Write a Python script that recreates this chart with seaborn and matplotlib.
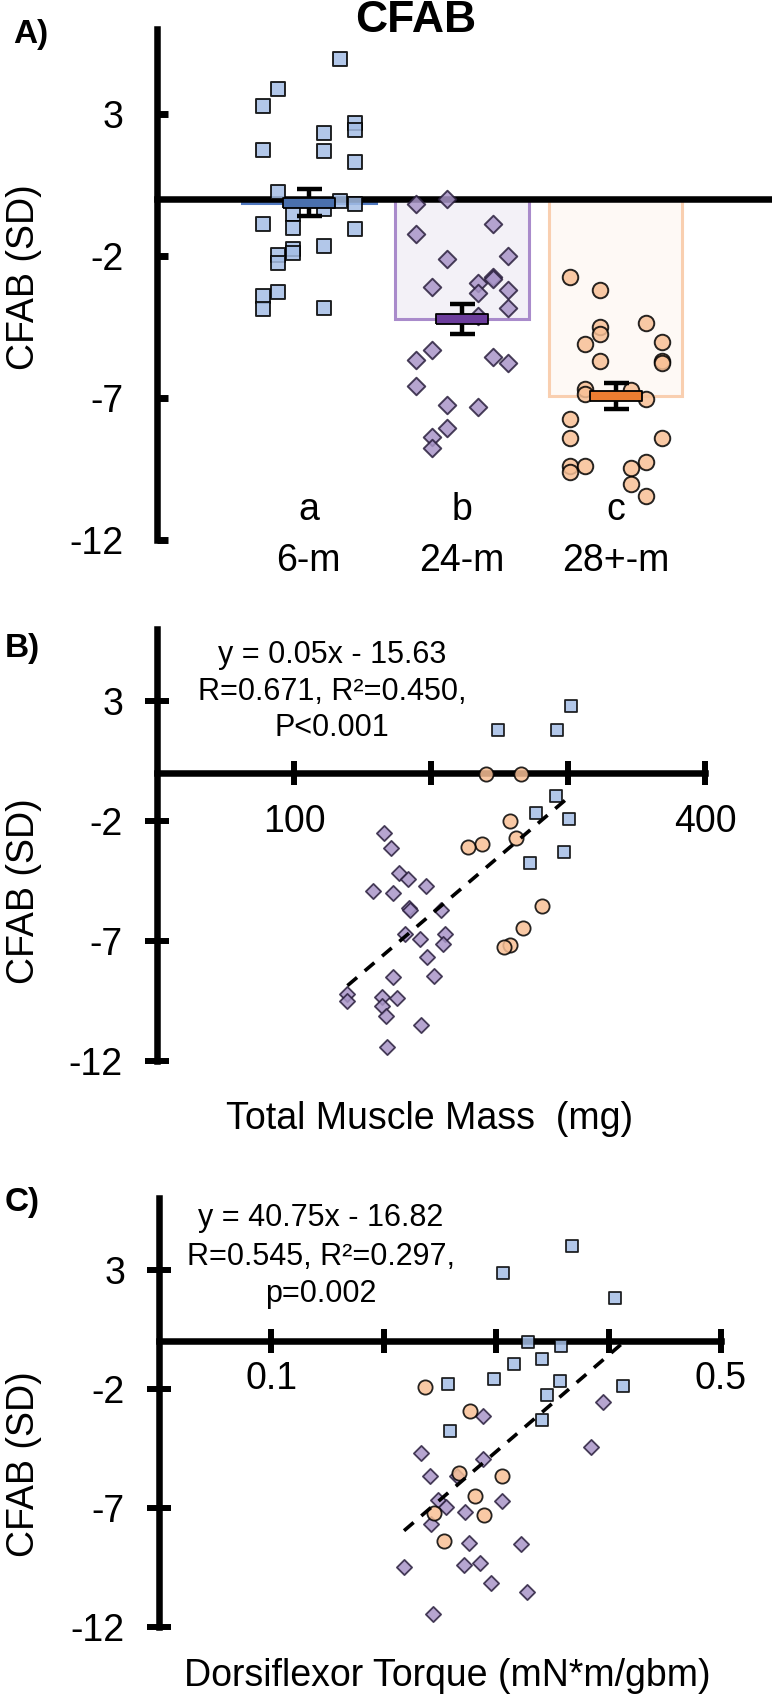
import numpy as np
import pandas as pd
import seaborn as sns
import matplotlib.pyplot as plt

sns.set_style("white", rc={'axes.edgecolor': 'black', 'text.color': 'black',
                           'xtick.color': 'black', 'ytick.color': 'black',
                           'axes.labelcolor': 'black',
                           'xtick.bottom': True, 'ytick.left': True})
plt.rcParams['font.family'] = ['Liberation Sans', 'DejaVu Sans']
plt.rcParams['axes.unicode_minus'] = False

# ---------------- data ----------------
GROUPS = ['a', 'b', 'c']
AGES = ['6-m', '24-m', '28+-m']

# panel A: column offset (jitter column) and CFAB value per animal
A_6M_COL = [2, -2, -3, 3, 3, 1, -3, 1, 3, -2, 2, 3, 1, -1, -3, -1, 3, 1, -1, -1, -2, -2, -2, -3, -3, 1]
A_6M = [4.95, 3.9, 3.3, 2.7, 2.45, 2.35, 1.73, 1.7, 1.3, 0.25, -0.05, -0.15, -0.35, -0.5, -0.87,
        -1.0, -1.05, -1.65, -1.75, -1.9, -1.95, -2.25, -3.25, -3.4, -3.85, -3.82]
A_24M_COL = [-1, -3, 2, -3, 3, -1, 1, 2, 2, -2, 3, 1, 3, 1, -2, -3, 2, 3, -3, -1, 1, -1, -2, -2]
A_24M = [0.01, -0.18, -0.88, -1.23, -1.98, -2.11, -2.95, -2.75, -2.82, -3.1, -3.18, -3.3, -3.83,
         -4.12, -5.31, -5.65, -5.55, -5.78, -6.58, -7.24, -7.3, -8.07, -8.38, -8.77]
A_28M_COL = [-3, -1, 2, -1, -1, -2, 3, -1, 3, 3, -2, -2, 1, 2, -3, -3, 3, 2, -3, -2, 1, -3, 1, 2]
A_28M = [-2.72, -3.18, -4.34, -4.48, -4.76, -5.08, -5.04, -5.69, -5.71, -5.78, -6.67, -6.86, -6.73,
         -7.05, -7.75, -8.42, -8.42, -9.24, -9.4, -9.4, -9.47, -9.62, -10.04, -10.46]

# panel B: total muscle mass (mg) vs CFAB
B_6M_MASS = [302, 249, 292, 291, 277, 301, 297, 272]
B_6M_CFAB = [2.81, 1.80, 1.80, -0.97, -1.66, -1.90, -3.29, -3.76]
B_24M_MASS = [166, 171, 177, 183, 196, 158, 172, 184, 185, 207, 181, 210, 192, 209, 197, 172, 202,
              139, 139, 164, 175, 164, 167, 193, 168]
B_24M_CFAB = [-2.50, -3.11, -4.16, -4.42, -4.72, -4.90, -4.99, -5.61, -5.69, -5.69, -6.69, -6.69,
              -6.92, -7.14, -7.68, -8.49, -8.46, -9.21, -9.51, -9.33, -9.36, -9.69, -10.13, -10.52, -11.41]
B_28M_MASS = [240, 266, 258, 262, 237, 227, 281, 267, 258, 253]
B_28M_CFAB = [-0.03, -0.03, -1.98, -2.69, -2.96, -3.07, -5.55, -6.47, -7.16, -7.26]
B_TEXT = ['y = 0.05x - 15.63', 'R=0.671, R²=0.450,', 'P<0.001']

# panel C: dorsiflexor torque vs CFAB
C_6M_TORQUE = [0.367, 0.306, 0.406, 0.328, 0.358, 0.341, 0.316, 0.298, 0.357, 0.257, 0.413, 0.345, 0.341, 0.259]
C_6M_CFAB = [3.98, 2.84, 1.80, -0.03, -0.19, -0.75, -0.97, -1.59, -1.67, -1.80, -1.89, -2.27, -3.33, -3.77]
C_24M_TORQUE = [0.288, 0.395, 0.384, 0.233, 0.288, 0.241, 0.265, 0.248, 0.305, 0.255, 0.272, 0.242,
                0.276, 0.322, 0.286, 0.271, 0.218, 0.295, 0.327, 0.244]
C_24M_CFAB = [-3.13, -2.55, -4.45, -4.72, -4.95, -5.67, -5.67, -6.67, -6.70, -6.95, -7.16, -7.69,
              -8.48, -8.52, -9.30, -9.38, -9.50, -10.16, -10.55, -11.44]
C_28M_TORQUE = [0.237, 0.277, 0.267, 0.305, 0.281, 0.289, 0.245, 0.254]
C_28M_CFAB = [-1.95, -2.95, -5.55, -5.66, -6.52, -7.31, -7.23, -8.41]
C_TEXT = ['y = 40.75x - 16.82', 'R=0.545, R²=0.297,', 'p=0.002']

# colours / markers per group
PT_COLORS = ['#a5bee6', '#a996c8', '#f8c096']
PT_EDGES = ['black', '#2a1f3d', 'black']
MARKERS = ['s', 'D', 'o']
BAR_FILL = ['#dfe7f5', '#f3f0f8', '#fff9f4']
BAR_EDGE = ['#4f78bf', '#a98bcb', '#f9cfb0']
MEAN_COLORS = ['#4a70ad', '#6c3d9c', '#ec7d31']

W, H = 772, 1702
fig = plt.figure(figsize=(W / 100, H / 100), dpi=100)


def axes_px(left, top, right, bottom):
    return fig.add_axes([left / W, 1 - bottom / H, (right - left) / W, (bottom - top) / H])


def fig_text(x, y, s, **kw):
    fig.text(x / W, 1 - y / H, s, ha='center', va='center', **kw)


SPINE_W = 4.7

# ==================== panel A ====================
axA = axes_px(157, 29, 772, 540)
dfA = pd.DataFrame({
    'grp': ['a'] * len(A_6M) + ['b'] * len(A_24M) + ['c'] * len(A_28M),
    'col': A_6M_COL + A_24M_COL + A_28M_COL,
    'val': A_6M + A_24M + A_28M,
})
dfA['pos'] = dfA['grp'].map({g: i for i, g in enumerate(GROUPS)}) + dfA['col'] * 0.1

sns.barplot(data=dfA, x='grp', y='val', hue='grp', palette=BAR_FILL, order=GROUPS,
            errorbar=None, width=0.87, legend=False, linewidth=2.2, ax=axA, zorder=1)
for patch, ec in zip(axA.patches, BAR_EDGE):
    patch.set_edgecolor(ec)

for i, g in enumerate(GROUPS):
    sub = dfA[dfA['grp'] == g]
    sns.scatterplot(x=sub['pos'], y=sub['val'], marker=MARKERS[i], s=[115, 80, 125][i],
                    color=PT_COLORS[i], edgecolor=PT_EDGES[i], linewidth=1.4, alpha=0.85,
                    ax=axA, zorder=3)

stats = dfA.groupby('grp')['val'].agg(['mean', 'sem']).reindex(GROUPS)
xs = np.arange(len(GROUPS))
axA.errorbar(xs, stats['mean'], yerr=stats['sem'], fmt='none', ecolor='black',
             elinewidth=3.2, capsize=9, capthick=3.2, zorder=4)
rect = [(-2.5, -0.5), (2.5, -0.5), (2.5, 0.5), (-2.5, 0.5), (-2.5, -0.5)]
for i in range(len(GROUPS)):
    axA.scatter(xs[i], stats['mean'].iloc[i], marker=rect, s=37 ** 2, color=MEAN_COLORS[i],
                edgecolor='black', linewidth=1.3, zorder=5)

for i in range(len(GROUPS)):
    axA.text(xs[i], -10.95, GROUPS[i], ha='center', va='center', fontsize=27)
    axA.text(xs[i], -12.75, AGES[i], ha='center', va='center', fontsize=27, clip_on=False)

axA.set_xlim(-0.99, 3.02)
axA.set_ylim(-12, 6)
axA.set_xlabel('')
axA.set_ylabel('')
axA.set_xticks([])
axA.set_yticks([3, -2, -7, -12])
axA.tick_params(axis='y', left=True, direction='in', length=8, width=5, labelsize=27, pad=24)
for s in ['top', 'right']:
    axA.spines[s].set_visible(False)
axA.spines['left'].set_linewidth(SPINE_W)
axA.spines['bottom'].set_position(('data', 0))
axA.spines['bottom'].set_linewidth(SPINE_W)
axA.spines['bottom'].set_zorder(2.5)

fig_text(416, 21, 'CFAB', fontsize=32, fontweight='bold')
fig_text(31, 35, 'A)', fontsize=24, fontweight='bold')
fig_text(24, 277, 'CFAB (SD)', fontsize=27, rotation=90)


# ==================== panels B and C ====================
def scatter_panel(ax, xs_list, ys_list, xmax, xticks, xticklabels, xpad, text_lines, text_x, text_y):
    for i in range(3):
        sns.scatterplot(x=xs_list[i], y=ys_list[i], marker=MARKERS[i], s=[85, 60, 105][i],
                        color=PT_COLORS[i], edgecolor=PT_EDGES[i], linewidth=1.3, alpha=0.85,
                        ax=ax, zorder=3)
    allx = np.concatenate([np.asarray(v, float) for v in xs_list])
    ally = np.concatenate([np.asarray(v, float) for v in ys_list])
    sns.regplot(x=allx, y=ally, scatter=False, ci=None, ax=ax,
                line_kws=dict(color='black', lw=2.6, ls=(0, (3.5, 2.8)), zorder=4))
    ax.set_xlim(0, xmax)
    ax.set_ylim(-12, 6)
    ax.set_xlabel('')
    ax.set_ylabel('')
    ax.set_xticks(xticks)
    ax.set_xticklabels(xticklabels)
    ax.set_yticks([3, -2, -7, -12])
    ax.tick_params(axis='both', left=True, bottom=True, direction='inout', length=17,
                   width=4.3, labelsize=27)
    ax.tick_params(axis='x', pad=xpad)
    ax.tick_params(axis='y', pad=16)
    for s in ['top', 'right']:
        ax.spines[s].set_visible(False)
    ax.spines['left'].set_linewidth(SPINE_W)
    ax.spines['bottom'].set_position(('data', 0))
    ax.spines['bottom'].set_linewidth(SPINE_W)
    ax.spines['bottom'].set_zorder(2.5)
    for k, line in enumerate(text_lines):
        fig_text(text_x, text_y[k], line, fontsize=22)


axB = axes_px(157, 629, 705, 1061)
scatter_panel(axB, [B_6M_MASS, B_24M_MASS, B_28M_MASS], [B_6M_CFAB, B_24M_CFAB, B_28M_CFAB],
              400, [100, 200, 300, 400], ['100', '', '', '400'], 14,
              B_TEXT, 332, [655, 692, 728])
fig_text(22, 648, 'B)', fontsize=24, fontweight='bold')
fig_text(24, 891, 'CFAB (SD)', fontsize=27, rotation=90)
fig_text(430, 1119, 'Total Muscle Mass  (mg)', fontsize=27)

axC = axes_px(159, 1198, 721, 1627)
scatter_panel(axC, [C_6M_TORQUE, C_24M_TORQUE, C_28M_TORQUE], [C_6M_CFAB, C_24M_CFAB, C_28M_CFAB],
              0.5, [0.1, 0.2, 0.3, 0.4, 0.5], ['0.1', '', '', '', '0.5'], 6,
              C_TEXT, 321, [1218, 1257, 1294])
fig_text(22, 1202, 'C)', fontsize=24, fontweight='bold')
fig_text(24, 1464, 'CFAB (SD)', fontsize=27, rotation=90)
fig_text(447, 1676, 'Dorsiflexor Torque (mN*m/gbm)', fontsize=27)

fig.savefig('out.png', dpi=100)
